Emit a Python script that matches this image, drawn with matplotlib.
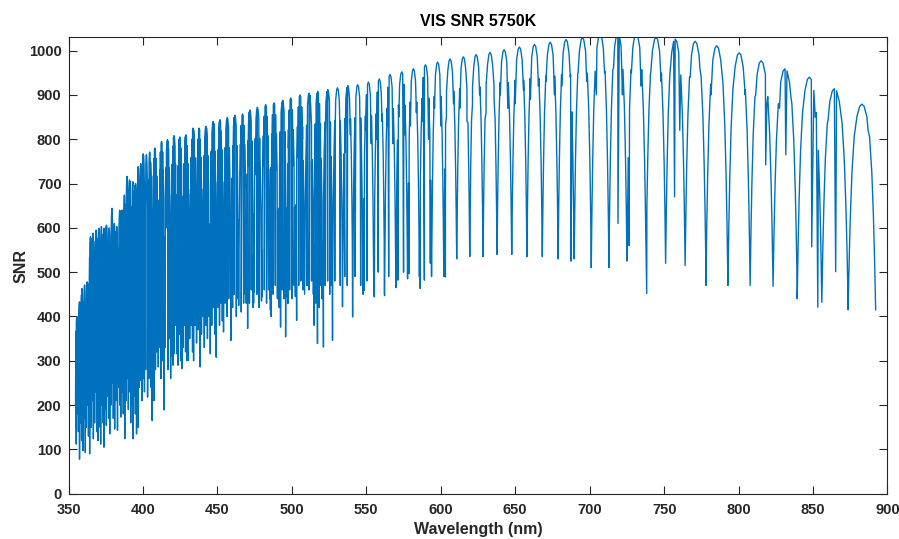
import numpy as np
import matplotlib.pyplot as plt

plt.rcParams['font.family'] = ['Liberation Sans', 'DejaVu Sans']

# echelle orders: centre wavelength (nm), peak SNR, SNR at the order edges
order_center_nm = [
    355.6, 357.4, 359.0, 360.8, 362.6, 364.8, 366.5, 368.6, 370.4, 372.1,
    373.8, 375.5, 377.3, 379.2, 380.8, 382.4, 384.4, 386.0, 387.5, 389.3,
    391.0, 393.2, 395.0, 396.8, 398.5, 400.2, 402.3, 404.5,
    408.0, 412.5, 416.5, 420.8, 424.7, 428.8, 433.7, 437.7, 442.3, 447.2,
    451.7, 456.6, 461.7, 466.9, 471.8, 476.8, 482.4, 488.0, 493.8, 499.2,
    505.5, 511.6, 517.3, 524.1, 530.6, 537.5, 544.2, 551.4, 558.7, 565.9,
    573.8, 581.6, 589.7, 597.9, 606.2, 615.2, 623.7, 633.1, 642.5, 652.8,
    662.9, 673.5, 684.1, 695.1, 707.0, 718.9, 731.2, 744.6, 757.4, 770.8,
    785.3, 800.4, 815.1, 831.2, 847.5, 864.3, 882.8,
]
order_peak_snr = [
    399, 433, 463, 471, 478, 580, 588, 595, 599, 603,
    599, 606, 600, 644, 610, 603, 640, 640, 674, 716,
    708, 704, 700, 738, 745, 767, 765, 771,
    780, 795, 799, 808, 805, 810, 825, 825, 829, 840,
    844, 849, 854, 857, 866, 872, 878, 882, 888, 893,
    900, 904, 908, 912, 916, 921, 923, 929, 936, 946,
    952, 959, 968, 974, 981, 986, 991, 996, 1002, 1008,
    1014, 1019, 1025, 1029, 1038, 1040, 1038, 1030, 1026, 1021,
    1011, 995, 977, 959, 940, 914, 879,
]
order_floor_snr = [
    200, 215, 230, 235, 240, 290, 295, 300, 300, 300,
    300, 305, 300, 320, 305, 300, 320, 320, 335, 355,
    355, 350, 350, 370, 370, 385, 380, 385,
    390, 395, 400, 405, 400, 405, 410, 410, 415, 420,
    420, 425, 425, 430, 430, 435, 440, 440, 445, 445,
    450, 450, 450, 455, 455, 455, 455, 450, 447, 465,
    485, 490, 495, 490, 530, 535, 535, 540, 540, 540,
    535, 540, 530, 530, 510, 525, 530, 525, 520, 515,
    470, 475, 470, 468, 440, 432, 415,
]

# shape of one order across its width (read from the isolated red orders)
blaze_pos = [-0.5, -0.46, -0.42, -0.36, -0.28, -0.18, -0.08, 0.0,
             0.08, 0.18, 0.28, 0.36, 0.42, 0.46, 0.5]
blaze_shape = [0, 0.25, 0.45, 0.67, 0.84, 0.94, 0.99, 1.0,
               0.99, 0.94, 0.84, 0.67, 0.45, 0.25, 0]

# deep absorption lines: wavelength (nm) and SNR at the bottom of the spike
spike_nm = [
    354.9, 355.2, 356.0, 356.6, 357.4, 358.1, 358.8, 359.7, 360.4, 361.3,
    362.0, 362.7, 363.4, 364.2, 364.9, 365.3, 366.0, 366.7, 367.5, 368.2,
    368.9, 369.8, 370.5, 371.2, 371.6, 372.4, 373.1, 373.8, 374.6, 375.4,
    376.1, 376.9, 377.7, 378.5, 379.3, 380.1, 381.0, 381.8, 382.9, 383.7,
    384.4, 385.1, 386.0, 386.8, 387.8, 388.6, 389.4, 390.2, 391.0, 391.8,
    392.6, 393.4, 394.2, 394.9, 395.7, 396.8, 397.6, 398.6, 399.4, 400.2,
    401.0, 401.8, 403.1, 404.0, 404.8, 405.5, 406.2, 407.4, 408.4, 409.2,
    410.3, 411.2, 412.1, 413.0, 414.1, 415.0, 416.8, 417.7, 418.6, 419.4,
    420.2, 421.1, 422.0, 422.7, 423.6, 424.4, 425.3, 426.1, 427.0, 427.9,
    428.6, 429.4, 430.5, 431.4, 432.3, 433.3, 434.0, 435.0, 436.0, 437.0,
    438.4, 439.3, 440.3, 441.2, 442.3, 443.3, 444.3, 445.2, 446.2, 447.3,
    448.3, 449.2, 450.4, 451.4, 452.5, 453.3, 454.1, 455.2, 456.5, 457.6,
    459.1, 460.2, 461.3, 462.7, 463.8, 466.0, 467.6, 468.8, 470.3, 471.5,
    472.8, 474.0, 474.8, 476.5, 478.0, 480.0, 481.5, 483.0, 484.4, 485.6,
    486.1, 487.4, 488.9, 490.3, 491.5, 492.4, 493.6, 494.8, 495.8, 497.3,
    498.5, 500.0, 501.5, 503.2, 504.6, 506.0, 507.4, 510.2, 511.6, 513.2,
    514.9, 516.0, 517.2, 518.4, 519.5, 520.3, 521.2, 522.4, 524.0, 525.4,
    526.3, 527.3, 528.8, 532.5, 534.0, 535.5, 537.2, 540.8, 542.5, 546.2,
    548.6, 550.5, 555.4, 558.0, 562.1, 565.0, 571.2, 575.0, 578.6, 586.2,
    589.0, 593.0, 603.1, 687.5, 719.0, 726.5, 738.3, 757.0, 818.2, 831.7,
    849.1, 853.2, 865.2,
]
spike_snr = [
    150, 112, 180, 140, 78, 160, 120, 97, 170, 93,
    150, 200, 130, 90, 180, 150, 210, 124, 160, 230,
    140, 120, 190, 150, 112, 200, 160, 105, 190, 154,
    220, 170, 135, 200, 250, 170, 146, 210, 143, 240,
    200, 173, 230, 180, 124, 210, 260, 190, 230, 160,
    200, 124, 220, 180, 135, 150, 240, 256, 210, 260,
    230, 280, 218, 260, 300, 240, 165, 210, 280, 320,
    286, 330, 260, 300, 189, 330, 280, 350, 260, 310,
    290, 316, 380, 316, 290, 360, 300, 282, 330, 380,
    320, 300, 301, 350, 380, 320, 300, 380, 340, 370,
    286, 360, 400, 330, 380, 350, 400, 316, 380, 420,
    360, 308, 420, 380, 430, 390, 365, 430, 400, 440,
    346, 420, 450, 400, 440, 410, 430, 450, 373, 430,
    460, 420, 455, 450, 420, 444, 460, 430, 460, 414,
    400, 450, 470, 440, 420, 376, 460, 440, 354, 429,
    460, 440, 470, 391, 470, 480, 460, 470, 460, 480,
    380, 430, 339, 420, 470, 440, 331, 470, 480, 450,
    470, 346, 480, 470, 422, 490, 470, 399, 490, 470,
    459, 480, 444, 500, 452, 490, 482, 500, 497, 463,
    482, 520, 489, 525, 610, 560, 452, 670, 742, 765,
    557, 421, 501,
]

# shallower lines inside the orders
weak_nm = [
    407.2, 409.0, 411.6, 413.4, 415.6, 417.6, 419.9, 421.8, 423.8, 425.8,
    427.8, 430.0, 432.6, 434.8, 436.6, 438.9, 441.2, 443.4, 446.1, 448.3,
    450.6, 452.9, 455.4, 457.9, 460.4, 463.0, 465.6, 468.2, 470.5, 473.1,
    475.5, 478.1, 481.0, 483.8, 486.6, 489.4, 492.3, 495.3, 497.7, 500.8,
    503.9, 507.1, 510.0, 513.2, 515.8, 518.9, 522.4, 525.8, 528.9, 532.3,
    535.7, 539.3, 542.4, 546.0, 549.5, 553.3, 556.8, 560.6, 564.0, 567.8,
    571.8, 575.8, 579.6, 583.6, 587.6, 591.8, 595.8, 600.0, 603.8, 608.6,
    612.8, 617.6, 621.3, 626.1, 630.4, 635.8, 640.0, 645.0, 650.0, 655.6,
    660.2, 665.6, 670.6, 676.4, 681.2, 687.0, 692.2, 698.0, 704.5, 710.0,
    716.0, 722.0, 728.0, 734.5, 741.0, 748.0, 754.0, 760.5, 767.5, 774.0,
    781.5, 789.0, 796.5, 804.5, 811.5, 819.0, 827.5, 835.0, 843.5, 851.5,
    860.0, 868.5, 878.5, 887.0,
]
weak_snr = [
    560, 610, 580, 640, 600, 560, 620, 580, 640, 600,
    610, 650, 620, 660, 640, 600, 660, 620, 650, 690,
    700, 660, 680, 720, 700, 660, 720, 690, 740, 700,
    720, 760, 740, 700, 760, 730, 720, 770, 780, 740,
    760, 800, 790, 750, 720, 780, 800, 760, 790, 820,
    770, 810, 800, 760, 820, 790, 800, 840, 830, 790,
    850, 810, 830, 860, 840, 800, 870, 830, 850, 880,
    870, 840, 880, 900, 860, 890, 900, 870, 880, 910,
    890, 920, 930, 900, 920, 940, 950, 930, 900, 950,
    960, 900, 950, 920, 950, 930, 960, 820, 940, 960,
    900, 950, 930, 900, 900, 880, 870, 900, 880, 850,
    840, 870, 830, 820,
]

centers = np.array(order_center_nm)
edges = np.concatenate([
    [centers[0] - (centers[1] - centers[0]) / 2],
    (centers[:-1] + centers[1:]) / 2,
    [centers[-1] + (centers[-1] - centers[-2]) / 2],
])
pos = np.array(blaze_pos)
shape = np.array(blaze_shape)
line_wl = np.array(spike_nm + weak_nm)
line_val = np.array(spike_snr + weak_snr)

wl_all, snr_all = [], []
for k, c in enumerate(centers):
    left, right = edges[k], edges[k + 1]
    w = np.where(pos < 0, c + 2 * pos * (c - left), c + 2 * pos * (right - c))
    s = order_floor_snr[k] + (order_peak_snr[k] - order_floor_snr[k]) * shape
    # add the absorption lines falling inside this order
    m = (line_wl > left) & (line_wl < right)
    sw, sv = line_wl[m], line_val[m]
    keep = sv < np.interp(sw, w, s)
    w = np.concatenate([w, sw[keep]])
    s = np.concatenate([s, sv[keep]])
    order = np.argsort(w, kind='stable')
    wl_all.append(w[order])
    snr_all.append(s[order])

wl_all = np.concatenate(wl_all)
snr_all = np.concatenate(snr_all)

fig = plt.figure(figsize=(8.99, 5.39), dpi=100)
ax = fig.add_axes([0.0762, 0.084, 0.9110, 0.8468])
ax.plot(wl_all, snr_all, color='#0072BD', lw=1.0)

ax.set_xlim(350, 900)
ax.set_ylim(0, 1030)
ax.set_xticks(np.arange(350, 901, 50))
ax.set_yticks(np.arange(0, 1001, 100))
ax.tick_params(direction='in', top=True, right=True, length=6, width=0.8,
               colors='#262626', labelsize=10.5)
ax.tick_params(axis='x', pad=7)
ax.tick_params(axis='y', pad=5)
for lbl in ax.get_xticklabels() + ax.get_yticklabels():
    lbl.set_fontweight('bold')
for sp in ax.spines.values():
    sp.set_color('#262626')
    sp.set_linewidth(0.8)

ax.set_xlabel('Wavelength (nm)', fontsize=11.5, fontweight='bold', color='#262626', labelpad=3)
ax.set_ylabel('SNR', fontsize=11.5, fontweight='bold', color='#262626', labelpad=0)
ax.set_title('VIS SNR 5750K', fontsize=11.5, fontweight='bold', color='black', pad=8)

fig.savefig('out.png', dpi=100)
